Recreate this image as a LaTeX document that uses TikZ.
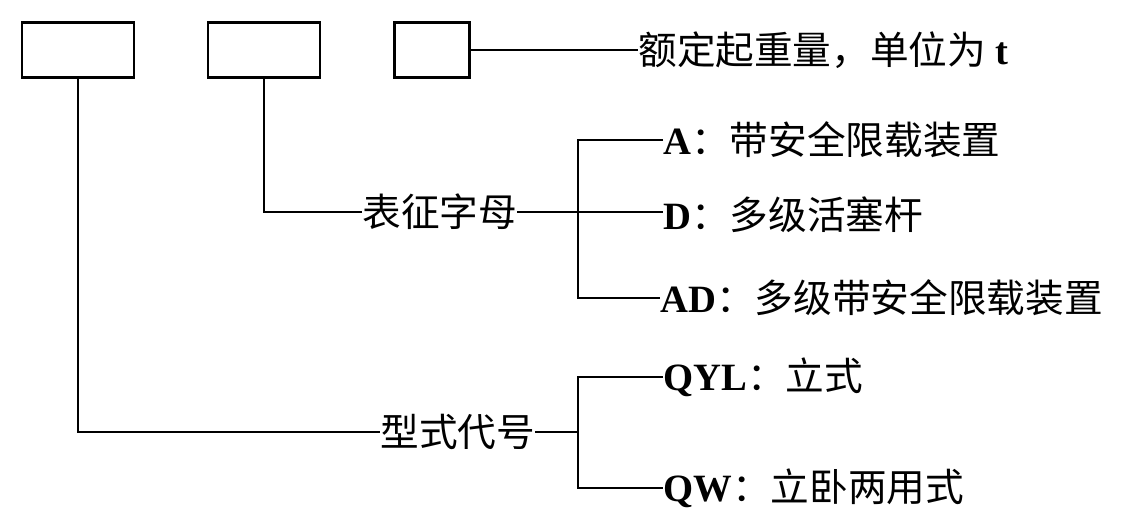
\documentclass[tikz,border=0pt]{standalone}
\usepackage{fontspec}
\setmainfont{Liberation Serif}
\newfontfamily\cjk{Noto Sans CJK SC}
\newcommand{\zh}[1]{{\cjk\mdseries #1}}
\begin{document}
\begin{tikzpicture}[x=0.02cm,y=-0.02cm,
  ln/.style={line width=1.6pt},
  bx/.style={draw,line width=1.6pt,minimum width=2.24cm,minimum height=1.1cm,inner sep=0pt},
  lb/.style={anchor=west,inner sep=0pt,font=\fontsize{22}{26}\selectfont\bfseries}]
\useasboundingbox (0,0) rectangle (1148,528);
\node[bx] (b1) at (78,50) {};
\node[bx] (b2) at (264,50) {};
\node[bx,minimum width=1.5cm] (b3) at (432,50) {};
\node[lb] (t0) at (638,50) {\zh{额定起重量，单位为} t};
\draw[ln] (b3.east) -- (t0.west);
% branch 2
\node[lb] (m2) at (362,212) {\zh{表征字母}};
\draw[ln] (b2.south) |- (m2.west);
\coordinate (v2) at (578,212);
\node[lb] (a1) at (663,140) {A\zh{：带安全限载装置}};
\node[lb] (a2) at (663,215) {D\zh{：多级活塞杆}};
\node[lb] (a3) at (660,298) {AD\zh{：多级带安全限载装置}};
\draw[ln] (m2.east) -- (a2.west |- v2);
\draw[ln] (a1.west) -| (v2) |- (a3.west);
% branch 1
\node[lb] (m1) at (380,432) {\zh{型式代号}};
\draw[ln] (b1.south) |- (m1.west);
\coordinate (v1) at (578,432);
\node[lb] (c1) at (663,377) {QYL\zh{：立式}};
\node[lb] (c2) at (663,488) {QW\zh{：立卧两用式}};
\draw[ln] (m1.east) -- (v1);
\draw[ln] (c1.west) -| (v1) |- (c2.west);
\end{tikzpicture}
\end{document}
